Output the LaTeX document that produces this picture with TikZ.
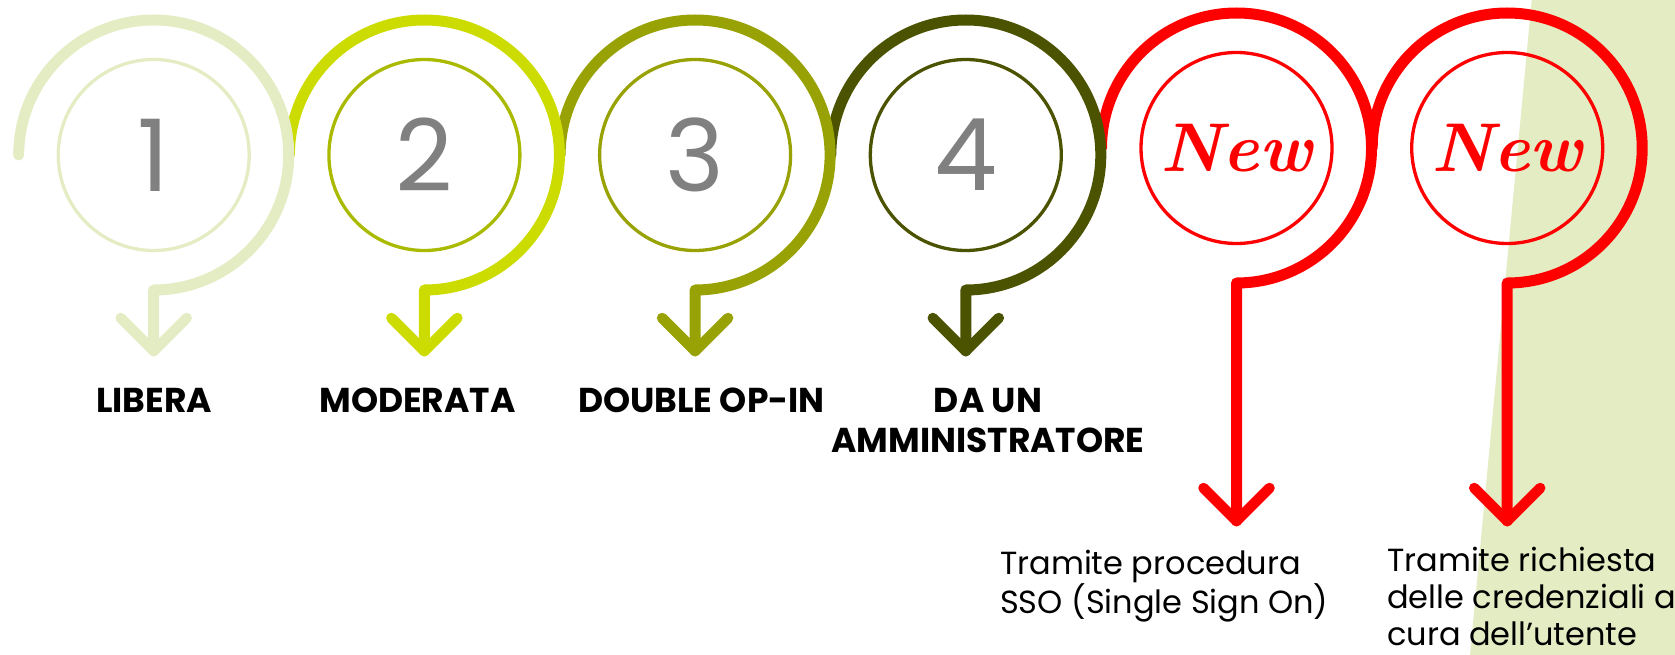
\documentclass[tikz,border=0pt]{standalone}
\usepackage{fontspec}
\usetikzlibrary{calc}
\newfontfamily\popfont{Poppins}
\definecolor{cone}{HTML}{E4ECC4}
\definecolor{ctwo}{HTML}{CCDC00}
\definecolor{ctwoin}{HTML}{AABA00}
\definecolor{cthree}{HTML}{98A204}
\definecolor{cfour}{HTML}{4B5200}
\definecolor{bgc}{HTML}{E4ECC4}
\definecolor{digit}{HTML}{808080}
\tikzset{
  outerarc/.style={line width=11pt, line cap=round, line join=round},
  arrowhead/.style={line width=10.5pt, line cap=round, line join=round},
  ring/.style={circle, draw, line width=3.3pt, minimum size=191pt, inner sep=0pt},
  digitnum/.style={ring, text=digit, font=\popfont\fontsize{100}{100}\selectfont},
  newtxt/.style={ring, draw=red, text=red, font=\rmfamily\bfseries\itshape\fontsize{69}{69}\selectfont},
  lab/.style={anchor=base, inner sep=0pt, align=center, font=\popfont\bfseries\fontsize{34.5}{40}\selectfont},
  desc/.style={anchor=base west, inner sep=0pt, align=left, font=\popfont\fontsize{32}{37}\selectfont}
}
\begin{document}
\begin{tikzpicture}[x=1pt,y=-1pt]
\useasboundingbox (0,0) rectangle (1675,655);
\fill[bgc] (1531.7,0) -- (1675,0) -- (1675,655) -- (1470,655) -- cycle;
\foreach \i/\cx/\cy/\co/\tip in {6/1507.2/148/red/521, 5/1236.5/148/red/521, 4/965.8/155/cfour/351, 3/695.1/155/cthree/351, 2/424.4/155/ctwo/351, 1/153.7/155/cone/351}{
  \coordinate (s\i) at (\cx-135,\cy);
  \coordinate (t\i) at (\cx,\tip);
  \draw[outerarc, draw=\co] (s\i) arc[start angle=180, end angle=450, radius=135] -- (t\i);
  \draw[arrowhead, draw=\co] ($(t\i)+(-33,-33)$) -- (t\i) -- ($(t\i)+(33,-33)$);
}
\node[digitnum, draw=cone] (c1) at (153.7,155) {1};
\node[digitnum, draw=ctwoin] (c2) at (424.4,155) {2};
\node[digitnum, draw=cthree] (c3) at (695.1,155) {3};
\node[digitnum, draw=cfour] (c4) at (965.8,155) {4};
\node[newtxt] (c5) at (1236.5,148) {New};
\node[newtxt] (c6) at (1507.2,148) {New};
\node[lab] (l1) at (154,412.7) {LIBERA};
\node[lab] (l2) at (417.5,412.7) {MODERATA};
\node[lab] (l3) at (701.5,412.7) {DOUBLE OP-IN};
\node[lab] (l4) at (988,452.7) {DA UN\\AMMINISTRATORE};
\node[desc] (d5) at (1000,613.5) {Tramite procedura\\SSO (Single Sign On)};
\node[desc] (d6) at (1387,645) {Tramite richiesta\\delle credenziali a\\cura dell’utente};
\end{tikzpicture}
\end{document}
